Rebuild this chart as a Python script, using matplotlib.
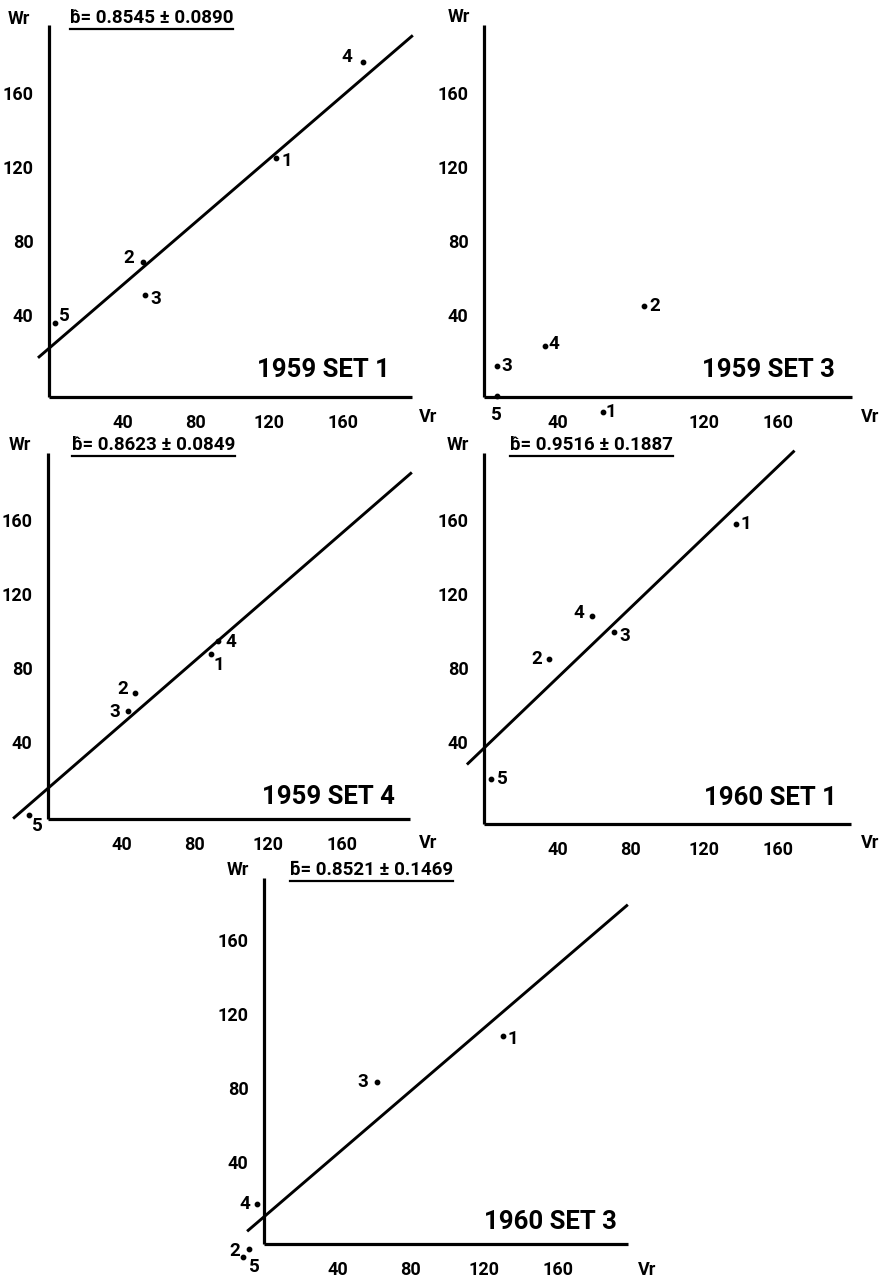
import matplotlib
matplotlib.use("Agg")
import matplotlib.pyplot as plt
from matplotlib import font_manager
from matplotlib.lines import Line2D

# --- font: narrow bold face if present ---
_names = {f.name for f in font_manager.fontManager.ttflist}
FONT = "Liberation Sans Narrow" if "Liberation Sans Narrow" in _names else "Roboto"
plt.rcParams["font.family"] = [FONT, "DejaVu Sans"]
plt.rcParams["font.weight"] = "bold"

W, H = 887, 1279
POINT_LABELS = ["1", "2", "3", "4", "5"]
X_TICKS = [40, 80, 120, 160]
Y_TICKS = [40, 80, 120, 160]

# --- data (Vr, Wr per array) ---
s591_vr = [123.5, 51, 52, 171, 3.3]
s591_wr = [125, 68.6, 51, 177, 35.6]
s593_vr = [64.5, 87, 7, 33, 7]
s593_wr = [-12.4, 45, 12.5, 23, -4]
s594_vr = [88.5, 47.5, 43.7, 92.5, -10.4]
s594_wr = [87.6, 66.5, 57, 94.6, 0.5]
s601_vr = [137, 35.5, 70.5, 59, 3.8]
s601_wr = [158, 85, 99.5, 108, 20]
s603_vr = [130, -8.2, 61.5, -3.8, -11.4]
s603_wr = [108, -7.1, 83, 17.5, -11.5]

# regression: slope, s.e., intercept, drawn x-range
slopes = [0.8545, None, 0.8623, 0.9516, 0.8521]
slope_se = [0.0890, None, 0.0849, 0.1887, 0.1469]
intercepts = [22, None, 15, 36.7, 10.4]
line_x = [(-6, 198), None, (-19, 198), (-9.3, 169), (-9.2, 198)]

set_names = ["1959 SET 1", "1959 SET 3", "1959 SET 4", "1960 SET 1", "1960 SET 3"]
b_marks = ["\u0302", None, "\u0302", "\u0302", "\u0304"]

# --- layout (pixel): origin x, x-axis y, top y, right x, ymin ---
frames = [
    (49, 397, 25, 412, -4.3),
    (484, 397, 25, 852, -4.3),
    (48, 819, 453, 410, -1.6),
    (484, 824, 453, 851, -4.3),
    (264, 1244, 878, 628, -4.3),
]
SX = 73.5 / 40
SY = 74.0 / 40

# label offsets (points) for each panel's points 1..5
offsets = [
    [(8, -2), (-10, 3), (8, -3), (-12, 3), (7, 5)],
    [(6, 0), (8, 0), (7, 0), (7, 2), (0, -13)],
    [(6, -8), (-9, 3), (-10, -1), (9, -1), (6, -8)],
    [(7, 0), (-9, 0), (8, -3), (-10, 2), (8, 0)],
    [(7, -2), (-10, -1), (-10, 0), (-9, 0), (8, -7)],
]
x_tick_sets = [X_TICKS, [40, 120, 160], X_TICKS, X_TICKS, X_TICKS]

series = [(s591_vr, s591_wr), (s593_vr, s593_wr), (s594_vr, s594_wr),
          (s601_vr, s601_wr), (s603_vr, s603_wr)]

# text positions in pixels: Wr, Vr, title left, set label right
txt_pos = [
    ((19, 19), (428, 417), (70, 18), (390, 370)),
    ((459, 17), (870, 417), None, (835, 370)),
    ((20, 445), (428, 843), (72, 445), (395, 797)),
    ((458, 445), (870, 843), (510, 445), (837, 798)),
    ((238, 870), (647, 1270), (290, 870), (617, 1222)),
]

fig = plt.figure(figsize=(W / 100, H / 100), dpi=100)


def fx(px):
    return px / W


def fy(py):
    return 1 - py / H


titles = []
for i in range(5):
    ox, axy, topy, rx, ymin = frames[i]
    xmax = (rx - ox) / SX
    ymax = ymin + (axy - topy) / SY
    ax = fig.add_axes([fx(ox), fy(axy), (rx - ox) / W, (axy - topy) / H])
    ax.set_xlim(0, xmax)
    ax.set_ylim(ymin, ymax)
    for side in ["top", "right"]:
        ax.spines[side].set_visible(False)
    for side in ["left", "bottom"]:
        ax.spines[side].set_linewidth(2.3)
        ax.spines[side].set_capstyle("butt")
    ax.set_xticks(x_tick_sets[i])
    ax.set_yticks(Y_TICKS)
    ax.tick_params(length=0, labelsize=13)
    ax.tick_params(axis="x", pad=12)
    ax.tick_params(axis="y", pad=11)
    ax.patch.set_visible(False)

    vr, wr = series[i]
    ax.scatter(vr, wr, s=10, color="black", clip_on=False, zorder=3)
    for j, lab in enumerate(POINT_LABELS):
        ax.annotate(lab, (vr[j], wr[j]), xytext=offsets[i][j], textcoords="offset points",
                    ha="center", va="center", fontsize=13.5, annotation_clip=False)

    if slopes[i] is not None:
        x0, x1 = line_x[i]
        ax.plot([x0, x1], [intercepts[i] + slopes[i] * x0, intercepts[i] + slopes[i] * x1],
                color="black", lw=2.1, clip_on=False, solid_capstyle="butt")

    wr_p, vr_p, t_p, s_p = txt_pos[i]
    fig.text(fx(wr_p[0]), fy(wr_p[1]), "Wr", ha="center", va="center", fontsize=13)
    fig.text(fx(vr_p[0]), fy(vr_p[1]), "Vr", ha="center", va="center", fontsize=13)
    fig.text(fx(s_p[0]), fy(s_p[1]), set_names[i], ha="right", va="center", fontsize=18.5)
    if t_p is not None:
        t = fig.text(fx(t_p[0]), fy(t_p[1]),
                     f"b{b_marks[i]}= {slopes[i]:.4f} \u00b1 {slope_se[i]:.4f}",
                     ha="left", va="center", fontsize=13.5)
        titles.append(t)

# underline the slope estimates
fig.canvas.draw()
r = fig.canvas.get_renderer()
for t in titles:
    bb = t.get_window_extent(renderer=r)
    yl = (bb.y0 - 2) / H
    fig.add_artist(Line2D([bb.x0 / W, bb.x1 / W], [yl, yl], color="black", lw=1.6))

fig.savefig("out.png", dpi=100)
